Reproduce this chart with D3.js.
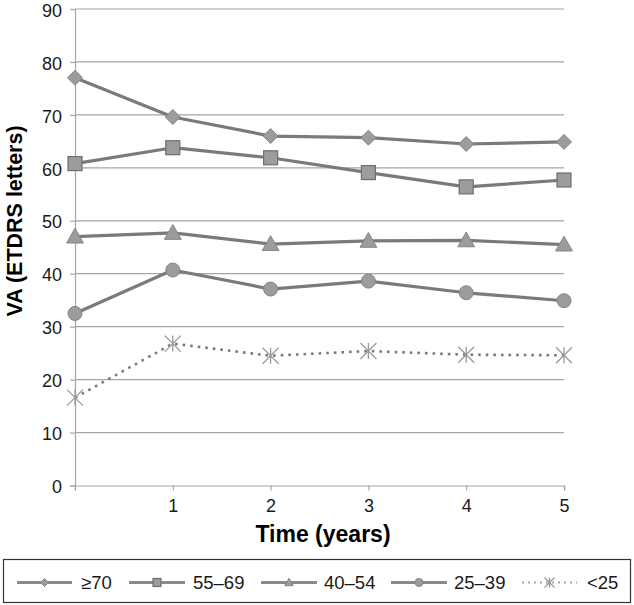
<!DOCTYPE html>
<html><head><meta charset="utf-8">
<script src="https://cdn.jsdelivr.net/npm/d3@7/dist/d3.min.js"></script>
<style>body{margin:0;background:#fff}svg{display:block;font-family:"Liberation Sans",Arial,sans-serif}</style>
</head><body><svg id="c" width="634" height="605"></svg>
<script>
const years = [0, 1, 2, 3, 4, 5];
const xTickLabels = ["", "1", "2", "3", "4", "5"];
const yTicks = [0, 10, 20, 30, 40, 50, 60, 70, 80, 90];
const seriesNames = ["≥70", "55–69", "40–54", "25–39", "<25"];
const seriesMarkers = ["diamond", "square", "triangle", "circle", "asterisk"];
const s70 = [77.0, 69.6, 66.0, 65.7, 64.5, 64.9];
const s55 = [60.8, 63.8, 61.9, 59.1, 56.4, 57.7];
const s40 = [47.0, 47.7, 45.6, 46.2, 46.3, 45.5];
const s25 = [32.5, 40.7, 37.1, 38.6, 36.4, 34.9];
const sLt25 = [16.6, 26.8, 24.5, 25.4, 24.7, 24.6];
const seriesValues = [s70, s55, s40, s25, sLt25];

const svg = d3.select("#c");
const x = d3.scaleLinear().domain([0, 5]).range([75, 564]);
const y = d3.scaleLinear().domain([0, 90]).range([485.5, 9]);
const lineCol = "#7a7a7a", fillCol = "#9c9c9c", strokeCol = "#858585";

// gridlines
svg.append("g").selectAll("line").data(yTicks.filter(d => d > 0)).join("line")
  .attr("x1", x(0)).attr("x2", x(5)).attr("y1", d => y(d)).attr("y2", d => y(d))
  .attr("stroke", "#a6a6a6").attr("stroke-width", 1.2);

// y axis
const ya = svg.append("g").attr("transform", `translate(${x(0)},0)`)
  .call(d3.axisLeft(y).tickValues(yTicks).tickSize(5).tickPadding(8));
ya.select(".domain").attr("stroke", "#a6a6a6").attr("stroke-width", 1.2);
ya.selectAll(".tick line").attr("stroke", "#a6a6a6").attr("stroke-width", 1.2);
ya.selectAll("text").attr("font-size", 18).attr("fill", "#1a1a1a").attr("dy", "0.4em")
  .attr("font-family", "Liberation Sans, Arial");

// x axis
const xa = svg.append("g").attr("transform", `translate(0,${y(0)})`)
  .call(d3.axisBottom(x).tickValues(years).tickSize(5).tickPadding(9).tickFormat((d, i) => xTickLabels[i]));
xa.select(".domain").attr("stroke", "#a6a6a6").attr("stroke-width", 1.2);
xa.selectAll(".tick line").attr("stroke", "#a6a6a6").attr("stroke-width", 1.2);
xa.selectAll("text").attr("font-size", 18).attr("fill", "#1a1a1a").attr("font-family", "Liberation Sans, Arial");

// titles
svg.append("text").attr("x", 323).attr("y", 542).attr("text-anchor", "middle")
  .attr("font-size", 23).attr("font-weight", "bold").attr("fill", "#000").text("Time (years)");
svg.append("text").attr("transform", "translate(22,221) rotate(-90)").attr("text-anchor", "middle")
  .attr("font-size", 21.5).attr("font-weight", "bold").attr("fill", "#000").text("VA (ETDRS letters)");

function drawMarker(g, type, cx, cy, s) {
  if (type === "diamond") {
    g.append("path").attr("d", `M${cx},${cy - s}L${cx + s},${cy}L${cx},${cy + s}L${cx - s},${cy}Z`)
      .attr("fill", fillCol).attr("stroke", strokeCol).attr("stroke-width", 1);
  } else if (type === "square") {
    g.append("rect").attr("x", cx - s).attr("y", cy - s).attr("width", 2 * s).attr("height", 2 * s)
      .attr("fill", fillCol).attr("stroke", "#6f6f6f").attr("stroke-width", 1.2);
  } else if (type === "triangle") {
    g.append("path").attr("d", `M${cx},${cy - s * 1.05}L${cx + s * 1.05},${cy + s * 0.8}L${cx - s * 1.05},${cy + s * 0.8}Z`)
      .attr("fill", fillCol).attr("stroke", strokeCol).attr("stroke-width", 1);
  } else if (type === "circle") {
    g.append("circle").attr("cx", cx).attr("cy", cy).attr("r", s)
      .attr("fill", fillCol).attr("stroke", strokeCol).attr("stroke-width", 1);
  } else if (type === "asterisk") {
    const p = `M${cx - s},${cy - s}L${cx + s},${cy + s}M${cx - s},${cy + s}L${cx + s},${cy - s}M${cx},${cy - s}L${cx},${cy + s}`;
    g.append("path").attr("d", p).attr("fill", "none").attr("stroke", "#9a9a9a").attr("stroke-width", 1.3);
  }
}

const line = d3.line().x((d, i) => x(years[i])).y(d => y(d));
seriesValues.forEach((vals, k) => {
  const g = svg.append("g");
  const dotted = seriesMarkers[k] === "asterisk";
  g.append("path").attr("d", line(vals)).attr("fill", "none")
    .attr("stroke", lineCol).attr("stroke-width", dotted ? 2.6 : 3.2)
    .attr("stroke-dasharray", dotted ? "2.6,5" : null).attr("stroke-linejoin", "round");
  const sz = {diamond: 7.5, square: 7, triangle: 8, circle: 7, asterisk: 8}[seriesMarkers[k]];
  vals.forEach((v, i) => drawMarker(g, seriesMarkers[k], x(years[i]), y(v), sz));
});

// legend
svg.append("rect").attr("x", 3.5).attr("y", 559.5).attr("width", 627).attr("height", 43)
  .attr("fill", "#fff").attr("stroke", "#333").attr("stroke-width", 1.2);
const legX = [17, 129, 261, 391, 522];
const legW = [55, 56, 56, 56, 55];
const legTextX = [81, 193, 324, 454, 587];
seriesNames.forEach((name, k) => {
  const g = svg.append("g");
  const ly = 582.5;
  const dotted = seriesMarkers[k] === "asterisk";
  g.append("line").attr("x1", legX[k]).attr("x2", legX[k] + legW[k]).attr("y1", ly).attr("y2", ly)
    .attr("stroke", dotted ? "#a8a8a8" : "#8a8a8a").attr("stroke-width", dotted ? 2 : 3)
    .attr("stroke-dasharray", dotted ? "2,4" : null);
  drawMarker(g, seriesMarkers[k], legX[k] + legW[k] / 2, ly, seriesMarkers[k] === "asterisk" ? 5 : 4);
  g.append("text").attr("x", legTextX[k]).attr("y", 588.5).attr("font-size", 18.5)
    .attr("fill", "#1a1a1a").text(name);
});
</script></body></html>
